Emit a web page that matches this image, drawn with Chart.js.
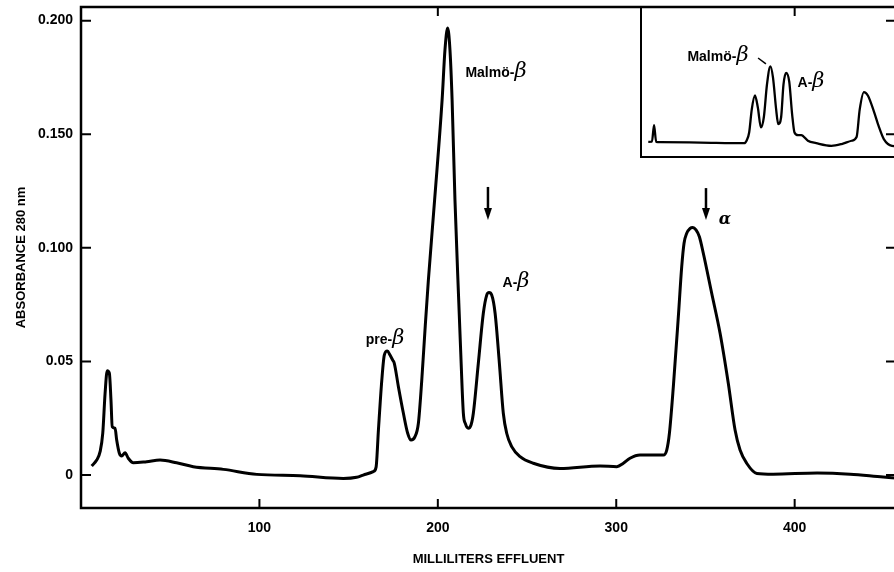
<!DOCTYPE html>
<html>
<head>
<meta charset="utf-8">
<script src="https://cdn.jsdelivr.net/npm/chart.js@4.4.0/dist/chart.umd.min.js"></script>
<style>
  html, body { margin: 0; padding: 0; background: #fff; overflow: hidden; }
  #wrap { position: relative; width: 894px; height: 572px; overflow: hidden; }
  #mainChart { position: absolute; left: 0; top: 0; display: block; }
  #insetBox {
    position: absolute; left: 640px; top: 6px;
    border-left: 2px solid #000; border-top: 2px solid #000; border-bottom: 2px solid #000;
    background: transparent;
  }
  #insetChart { display: block; }
</style>
</head>
<body>
<div id="wrap">
  <canvas id="mainChart" width="900" height="572"></canvas>
  <div id="insetBox"><canvas id="insetChart" width="262" height="148"></canvas></div>
</div>
<script>
// effluent volume (ml) and absorbance at 280 nm
const mlEffluent = [
  6.0, 8.8, 10.7, 12.2, 13.5, 14.7, 15.9, 16.8, 17.5, 19.1, 20.0, 21.5, 22.8, 24.7, 26.5, 29.3,
  36.8, 44.3, 53.6, 62.9, 79.8, 98.5, 122.8, 147.0, 154.5, 158.2, 163.8, 165.4, 166.7, 168.6,
  170.0, 171.7, 173.2, 174.7, 175.6, 177.9, 180.7, 183.1, 185.0, 187.2, 189.1, 191.0, 192.8,
  194.7, 198.2, 202.4, 204.0, 205.5, 206.8, 208.0, 209.6, 211.7, 212.7, 214.3, 215.5, 217.1,
  218.6, 219.9, 222.7, 225.5, 227.4, 228.7, 230.2, 232.1, 234.5, 236.7, 238.6, 241.4, 246.1,
  253.5, 268.5, 290.9, 300.3, 304.0, 307.7, 313.3, 326.4, 328.3, 329.8, 332.0, 334.8, 336.7,
  338.0, 339.5, 341.4, 342.9, 344.7, 346.6, 348.8, 353.5, 358.2, 362.8, 366.6, 369.4, 373.1,
  378.8, 387.9, 412.6, 431.1, 449.6, 456.8
];
const absorbance = [
  0.0040, 0.0066, 0.0103, 0.0184, 0.0360, 0.0459, 0.0448, 0.0330, 0.0213, 0.0206, 0.0154, 0.0096,
  0.0084, 0.0098, 0.0074, 0.0054, 0.0059, 0.0066, 0.0054, 0.0037, 0.0025, 0.0003, -0.0003, -0.0015,
  -0.0010, 0.0000, 0.0015, 0.0035, 0.0198, 0.0418, 0.0528, 0.0546, 0.0528, 0.0506, 0.0492, 0.0389,
  0.0272, 0.0184, 0.0154, 0.0169, 0.0228, 0.0418, 0.0638, 0.0858, 0.1211, 0.1651, 0.1871, 0.1968,
  0.1871, 0.1651, 0.1211, 0.0770, 0.0568, 0.0273, 0.0225, 0.0206, 0.0220, 0.0272, 0.0492, 0.0712,
  0.0792, 0.0803, 0.0792, 0.0712, 0.0492, 0.0272, 0.0184, 0.0125, 0.0081, 0.0052, 0.0029, 0.0040,
  0.0037, 0.0052, 0.0074, 0.0088, 0.0088, 0.0110, 0.0184, 0.0389, 0.0697, 0.0917, 0.1020, 0.1064,
  0.1086, 0.1090, 0.1079, 0.1049, 0.0976, 0.0800, 0.0624, 0.0404, 0.0198, 0.0110, 0.0052, 0.0007,
  0.0004, 0.0009, 0.0004, -0.0009, -0.0013
];

const xTickValues = [100, 200, 300, 400];
const yTickValues = [0, 0.05, 0.1, 0.15, 0.2];
const yTickLabels = ['0', '0.05', '0.100', '0.150', '0.200'];
const topTickValues = [200, 400];

// inset trace (relative units across the small box)
const insetX = [
  2.4, 3.8, 4.6, 5.4, 6.9, 22.3, 39.0, 40.0, 40.9, 41.9, 43.1, 44.2, 45.4, 46.5, 47.7, 49.0,
  50.0, 51.2, 52.0, 53.1, 54.0, 55.0, 56.2, 57.3, 58.2, 59.6, 60.8, 63.3, 66.5, 72.3, 76.2,
  80.0, 81.9, 83.1, 84.7, 86.2, 88.5, 90.3, 92.3, 95.4, 97.7
];
const insetY = [
  9.6, 9.7, 20.8, 9.6, 9.4, 9.1, 8.7, 10.7, 15.9, 31.5, 40.9, 32.9, 19.3, 26.2, 48.3, 60.6,
  53.0, 31.5, 21.5, 26.2, 48.3, 56.2, 50.3, 28.2, 15.9, 14.1, 14.1, 10.3, 8.7, 6.9, 8.1,
  10.3, 12.8, 31.5, 43.2, 40.9, 30.2, 20.3, 11.4, 6.9, 6.7
];

const romanFont = 'bold 14px "Liberation Sans", Arial, sans-serif';
const greekFont = 'italic 21px "DejaVu Serif", serif';
const alphaFont = 'italic bold 16px "DejaVu Serif", serif';

// peak labels, placed in data units
const mainLabels = [
  { x: 232.6, y: 0.1774, parts: [['Malmö', romanFont], ['-', romanFont], ['β', greekFont]] },
  { x: 243.8, y: 0.0850, parts: [['A', romanFont], ['-', romanFont], ['β', greekFont]] },
  { x: 170.4, y: 0.0599, parts: [['pre', romanFont], ['-', romanFont], ['β', greekFont]] },
  { x: 360.9, y: 0.1127, parts: [['α', alphaFont]] }
];
const mainArrows = [
  { x: 228.1, top: 0.1268, bottom: 0.1123 },
  { x: 350.3, top: 0.1263, bottom: 0.1123 }
];
const insetLabels = [
  { x: 29.0, y: 67.6, parts: [['Malmö', romanFont], ['-', romanFont], ['β', greekFont]] },
  { x: 64.5, y: 50.0, parts: [['A', romanFont], ['-', romanFont], ['β', greekFont]] }
];
const insetLeader = { x1: 44.3, y1: 66.2, x2: 47.3, y2: 62.2 };

function drawParts(ctx, parts, cx, cy) {
  let total = 0;
  const widths = parts.map(p => { ctx.font = p[1]; const w = ctx.measureText(p[0]).width; total += w; return w; });
  let x = cx - total / 2;
  ctx.fillStyle = '#000';
  ctx.textBaseline = 'alphabetic';
  ctx.textAlign = 'left';
  parts.forEach((p, i) => {
    ctx.font = p[1];
    ctx.fillText(p[0], x, cy + 5);
    x += widths[i];
  });
}

function drawArrow(ctx, px, top, bottom) {
  ctx.lineWidth = 2.5;
  ctx.beginPath();
  ctx.moveTo(px, top);
  ctx.lineTo(px, bottom - 10);
  ctx.stroke();
  ctx.beginPath();
  ctx.moveTo(px - 4, bottom - 12);
  ctx.lineTo(px + 4, bottom - 12);
  ctx.lineTo(px, bottom);
  ctx.closePath();
  ctx.fill();
}

const mainDecor = {
  id: 'mainDecor',
  afterDatasetsDraw(chart) {
    const { ctx, chartArea: a, scales: { x, y } } = chart;
    ctx.save();
    ctx.strokeStyle = '#000';
    ctx.fillStyle = '#000';
    ctx.lineWidth = 2.5;
    ctx.strokeRect(a.left, a.top, a.right - a.left, a.bottom - a.top);

    // inward tick marks
    ctx.lineWidth = 2;
    ctx.beginPath();
    yTickValues.forEach(v => {
      const py = y.getPixelForValue(v);
      ctx.moveTo(a.left, py); ctx.lineTo(a.left + 10, py);
      ctx.moveTo(a.right, py); ctx.lineTo(a.right - 10, py);
    });
    xTickValues.forEach(v => {
      const px = x.getPixelForValue(v);
      ctx.moveTo(px, a.bottom); ctx.lineTo(px, a.bottom - 9);
    });
    topTickValues.forEach(v => {
      const px = x.getPixelForValue(v);
      ctx.moveTo(px, a.top); ctx.lineTo(px, a.top + 9);
    });
    ctx.stroke();

    mainArrows.forEach(ar => {
      drawArrow(ctx, x.getPixelForValue(ar.x), y.getPixelForValue(ar.top), y.getPixelForValue(ar.bottom));
    });
    mainLabels.forEach(l => {
      drawParts(ctx, l.parts, x.getPixelForValue(l.x), y.getPixelForValue(l.y));
    });
    ctx.restore();
  }
};

const insetDecor = {
  id: 'insetDecor',
  afterDatasetsDraw(chart) {
    const { ctx, scales: { x, y } } = chart;
    ctx.save();
    ctx.strokeStyle = '#000';
    ctx.lineWidth = 1.5;
    ctx.beginPath();
    ctx.moveTo(x.getPixelForValue(insetLeader.x1), y.getPixelForValue(insetLeader.y1));
    ctx.lineTo(x.getPixelForValue(insetLeader.x2), y.getPixelForValue(insetLeader.y2));
    ctx.stroke();
    insetLabels.forEach(l => {
      drawParts(ctx, l.parts, x.getPixelForValue(l.x), y.getPixelForValue(l.y));
    });
    ctx.restore();
  }
};

const tickFont = { family: '"Liberation Sans", Arial, sans-serif', size: 14, weight: 'bold' };
const titleFont = { family: '"Liberation Sans", Arial, sans-serif', size: 13, weight: 'bold' };

const ctxMain = document.getElementById('mainChart').getContext('2d');
const mainChart = new Chart(ctxMain, {
  type: 'line',
  data: {
    datasets: [{
      data: mlEffluent.map((v, i) => ({ x: v, y: absorbance[i] })),
      borderColor: '#000',
      borderWidth: 3,
      pointRadius: 0,
      fill: false,
      cubicInterpolationMode: 'monotone'
    }]
  },
  options: {
    responsive: false,
    animation: false,
    devicePixelRatio: 1,
    layout: { padding: { top: 7, right: 4, left: 0, bottom: 0 } },
    plugins: { legend: { display: false }, tooltip: { enabled: false } },
    scales: {
      x: {
        type: 'linear',
        min: 0,
        max: 456.8,
        afterBuildTicks: axis => { axis.ticks = xTickValues.map(v => ({ value: v })); },
        afterFit: axis => { axis.height = 64; axis.paddingLeft = 0; axis.paddingRight = 0; },
        grid: { display: false, drawTicks: false },
        border: { display: false },
        ticks: { color: '#000', font: tickFont, padding: 12, maxRotation: 0 },
        title: {
          display: true, text: 'MILLILITERS EFFLUENT', color: '#000', font: titleFont,
          padding: { top: 0, bottom: 5 }
        }
      },
      y: {
        min: -0.0145,
        max: 0.206,
        afterBuildTicks: axis => { axis.ticks = yTickValues.map(v => ({ value: v })); },
        afterFit: axis => { axis.width = 81; axis.paddingTop = 0; axis.paddingBottom = 0; },
        grid: { display: false, drawTicks: false },
        border: { display: false },
        ticks: {
          color: '#000', font: tickFont, padding: 8,
          callback: value => {
            const i = yTickValues.findIndex(v => Math.abs(v - value) < 1e-9);
            return i >= 0 ? yTickLabels[i] : '';
          }
        },
        title: {
          display: true, text: 'ABSORBANCE 280 nm', color: '#000', font: titleFont,
          padding: { top: 14, bottom: 0 }
        }
      }
    }
  },
  plugins: [mainDecor]
});

const ctxInset = document.getElementById('insetChart').getContext('2d');
const insetChart = new Chart(ctxInset, {
  type: 'line',
  data: {
    datasets: [{
      data: insetX.map((v, i) => ({ x: v, y: insetY[i] })),
      borderColor: '#000',
      borderWidth: 2.3,
      pointRadius: 0,
      fill: false,
      cubicInterpolationMode: 'monotone'
    }]
  },
  options: {
    responsive: false,
    animation: false,
    devicePixelRatio: 1,
    layout: { padding: 0 },
    plugins: { legend: { display: false }, tooltip: { enabled: false } },
    scales: {
      x: { type: 'linear', min: 0, max: 100, display: false },
      y: { min: 0, max: 100, display: false }
    }
  },
  plugins: [insetDecor]
});
</script>
</body>
</html>
